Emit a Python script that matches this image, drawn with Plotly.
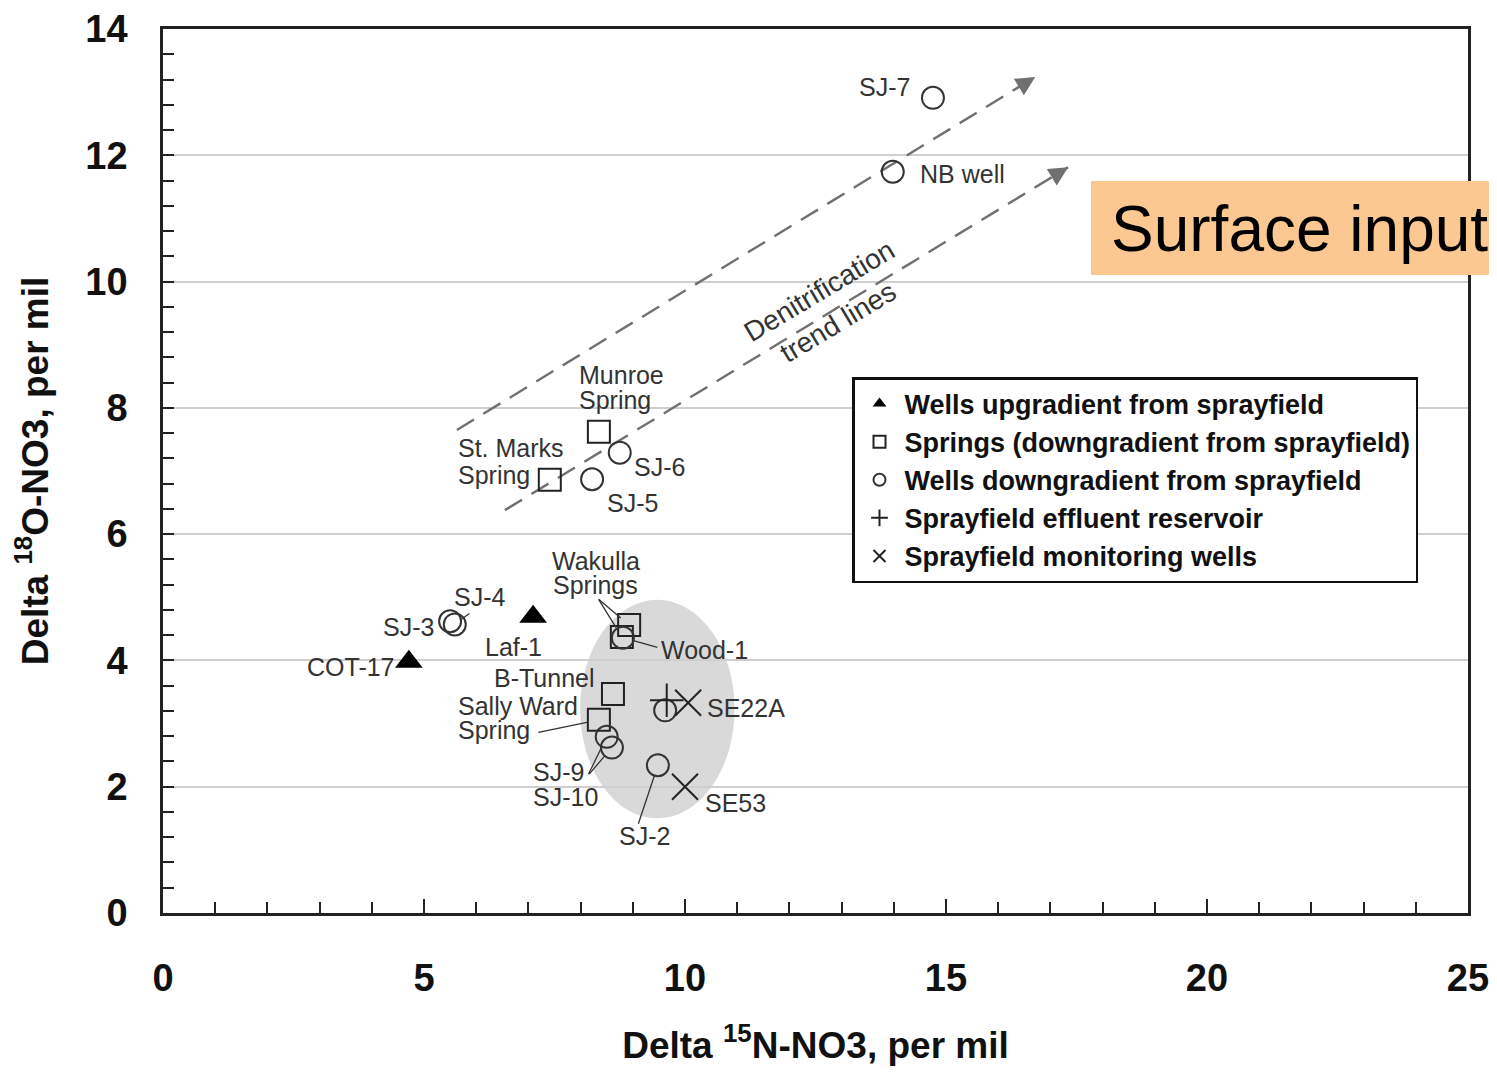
import plotly.graph_objects as go

# ---------------- data ----------------
up_names = ["COT-17", "Laf-1"]
up_x = [4.71, 7.09]
up_y = [3.98, 4.69]

spr_names = ["Munroe Spring", "St. Marks Spring", "Wakulla Springs", "Wakulla Springs 2", "B-Tunnel", "Sally Ward Spring"]
spr_x = [8.35, 7.41, 8.93, 8.79, 8.62, 8.35]
spr_y = [7.62, 6.86, 4.56, 4.37, 3.47, 3.06]

dn_names = ["SJ-7", "NB well", "SJ-6", "SJ-5", "SJ-4", "SJ-3", "Wood-1", "SE22A-c", "SJ-9", "SJ-10", "SJ-2"]
dn_x = [14.75, 13.98, 8.75, 8.22, 5.59, 5.50, 8.81, 9.62, 8.50, 8.60, 9.48]
dn_y = [12.91, 11.74, 7.29, 6.87, 4.57, 4.62, 4.36, 3.21, 2.79, 2.62, 2.34]

res_x = [9.65]
res_y = [3.37]

mon_names = ["SE22A", "SE53"]
mon_x = [10.06, 10.00]
mon_y = [3.33, 2.00]

# trend line arrows (start, end) in data units
trend1 = [(5.63, 7.65), (16.71, 13.24)]
trend2 = [(6.55, 6.38), (17.34, 11.81)]

# gray cluster ellipse
ell_x = [7.99, 10.95]
ell_y = [1.50, 4.96]

x_ticks = [0, 5, 10, 15, 20, 25]
y_ticks = [0, 2, 4, 6, 8, 10, 12, 14]

FONT = "Liberation Sans, Arial, sans-serif"
LBL = dict(family=FONT, size=25, color="#333333")

# page has an 8px body margin; layout values below compensate for it
OFF = 8
W, H = 1497 - OFF, 1073 - OFF
ML, MT = 163 - OFF, 29 - OFF
PW, PH = 1305, 884
MR, MB = W - ML - PW, H - MT - PH


def px2paper_x(px):
    return (px - OFF - ML) / PW


def px2paper_y(py):
    return 1 - (py - OFF - MT) / PH


fig = go.Figure()

# ellipse
fig.add_shape(type="circle", xref="x", yref="y", x0=ell_x[0], x1=ell_x[1], y0=ell_y[0], y1=ell_y[1],
              fillcolor="#d9d9d9", line=dict(width=0), layer="below")

# dashed trend lines
for tr in (trend1, trend2):
    fig.add_trace(go.Scatter(x=[tr[0][0], tr[1][0]], y=[tr[0][1], tr[1][1]], mode="lines",
                             line=dict(color="#707070", width=2.4, dash="20px,11px"),
                             showlegend=False, hoverinfo="skip"))
# arrowheads only (short shaft along trend direction)
for tr in (trend1, trend2):
    fig.add_annotation(x=tr[1][0], y=tr[1][1], xref="x", yref="y", ax=-0.853 * 14, ay=0.521 * 14,
                       text="", showarrow=True, arrowhead=2, arrowsize=1.6,
                       arrowwidth=2.4, arrowcolor="#707070")

fig.add_trace(go.Scatter(x=up_x, y=up_y, mode="markers", name="Wells upgradient from sprayfield",
                         marker=dict(symbol="triangle-up", size=24, color="black"), legendgroup="a"))
fig.add_trace(go.Scatter(x=spr_x, y=spr_y, mode="markers", name="Springs (downgradient from sprayfield)",
                         marker=dict(symbol="square-open", size=22, color="#222222", line=dict(width=2)), legendgroup="b"))
fig.add_trace(go.Scatter(x=dn_x, y=dn_y, mode="markers", name="Wells downgradient from sprayfield",
                         marker=dict(symbol="circle-open", size=22, color="#333333", line=dict(width=2)), legendgroup="c"))
fig.add_trace(go.Scatter(x=res_x, y=res_y, mode="markers", name="Sprayfield effluent reservoir",
                         marker=dict(symbol="cross-thin-open", size=24, color="#222222", line=dict(width=2)), legendgroup="d"))
fig.add_trace(go.Scatter(x=mon_x, y=mon_y, mode="markers", name="Sprayfield monitoring wells",
                         marker=dict(symbol="x-thin-open", size=26, color="#222222", line=dict(width=2)), legendgroup="e"))


# ---------------- labels ----------------
def lab(x, y, text, dx, dy, anchor="center"):
    fig.add_annotation(x=x, y=y, xref="x", yref="y", text=text, showarrow=False,
                       xshift=dx, yshift=-dy, font=LBL, xanchor=anchor)


def lab_lines(x, y, lines, dx, dy, spacing=25, anchor="center"):
    for i, t in enumerate(lines):
        ddx = dx[i] if isinstance(dx, (list, tuple)) else dx
        lab(x, y, t, ddx, dy + i * spacing, anchor)


def leader(x, y, ax, ay, standoff=10):
    fig.add_annotation(x=x, y=y, xref="x", yref="y", text="", showarrow=True, arrowhead=0,
                       ax=ax, ay=ay, arrowwidth=1.3, arrowcolor="#333333", standoff=standoff)


lab(dn_x[0], dn_y[0], "SJ-7", -48, -11)
lab(dn_x[1], dn_y[1], "NB well", 70, 2)
lab_lines(spr_x[0], spr_y[0], ["Munroe", "Spring"], [23, 16], -57)
lab_lines(spr_x[1], spr_y[1], ["St. Marks", "Spring"], -94, -32, spacing=27, anchor="left")
lab(dn_x[2], dn_y[2], "SJ-6", 40, 14)
lab(dn_x[3], dn_y[3], "SJ-5", 40, 24)
lab(dn_x[4], dn_y[4], "SJ-4", 25, -27)
leader(dn_x[4], dn_y[4], 16, -12, standoff=9)
lab(dn_x[5], dn_y[5], "SJ-3", -42, 6)
lab(up_x[1], up_y[1], "Laf-1", -20, 30)
lab(up_x[0], up_y[0], "COT-17", -58, 5)
lab_lines(spr_x[2], spr_y[2], ["Wakulla", "Springs"], [-33, -34], -64, spacing=24)
leader(spr_x[2], spr_y[2], -32, -27, standoff=11)
leader(spr_x[3], spr_y[3], -24, -39, standoff=11)
lab(dn_x[6], dn_y[6], "Wood-1", 82, 12)
leader(dn_x[6], dn_y[6], 36, 10, standoff=10)
lab(spr_x[4], spr_y[4], "B-Tunnel", -68, -16)
lab_lines(spr_x[5], spr_y[5], ["Sally Ward", "Spring"], -143, -14, spacing=24, anchor="left")
leader(spr_x[5], spr_y[5], -62, 13, standoff=11)
lab(mon_x[0], mon_y[0], "SE22A", 58, 5)
lab_lines(dn_x[8], dn_y[8], ["SJ-9", "SJ-10"], -76, 35, spacing=25, anchor="left")
leader(dn_x[8], dn_y[8], -19, 39, standoff=10)
leader(dn_x[9], dn_y[9], -24, 28, standoff=10)
lab(mon_x[1], mon_y[1], "SE53", 50, 16)
lab(dn_x[10], dn_y[10], "SJ-2", -13, 71)
leader(dn_x[10], dn_y[10], -20, 60, standoff=11)

# rotated trend text
fig.add_annotation(x=12.75, y=9.6, xref="x", yref="y", text="Denitrification<br>trend lines",
                   showarrow=False, textangle=-31, font=dict(family=FONT, size=28, color="#333333"))

# Surface inputs box
fig.add_shape(type="rect", xref="paper", yref="paper", x0=px2paper_x(1091), x1=px2paper_x(1520),
              y0=px2paper_y(275), y1=px2paper_y(181), fillcolor="#FCC892", line=dict(width=0), layer="above")
fig.add_annotation(xref="paper", yref="paper", x=px2paper_x(1109), y=px2paper_y(229),
                   xanchor="left", yanchor="middle", text="Surface inputs", showarrow=False,
                   font=dict(family=FONT, size=64, color="black"))

axis_common = dict(showline=True, linecolor="#222222", linewidth=2.5, mirror=True, automargin=False,
                   ticks="inside", tickcolor="#222222", tickwidth=2, zeroline=False,
                   tickfont=dict(family=FONT, size=38, color="#111111", weight="bold"))

TITLE_FONT = dict(family=FONT, size=37, color="#111111", weight="bold")

fig.update_xaxes(range=[0, 25], tickvals=x_ticks, ticklen=14, showgrid=False,
                 ticklabelstandoff=30,
                 minor=dict(dtick=1, tick0=0, ticks="inside", ticklen=11, tickcolor="#222222", tickwidth=2, showgrid=False),
                 title=dict(text="Delta <sup>15</sup>N-NO3, per mil", font=TITLE_FONT, standoff=34),
                 **axis_common)
fig.update_yaxes(range=[0, 14], tickvals=y_ticks, ticklen=11, showgrid=True, gridcolor="#cfcfcf", gridwidth=1.5,
                 ticklabelstandoff=25,
                 minor=dict(dtick=0.4, tick0=0, ticks="inside", ticklen=11, tickcolor="#222222", tickwidth=2, showgrid=False),
                 title=dict(text="Delta <sup>18</sup>O-NO3, per mil", font=TITLE_FONT, standoff=26),
                 **axis_common)

fig.update_layout(
    width=W, height=H,
    margin=dict(l=ML, r=MR, t=MT, b=MB, autoexpand=False),
    paper_bgcolor="white", plot_bgcolor="white",
    showlegend=True,
    legend=dict(x=px2paper_x(852), y=px2paper_y(377), xanchor="left", yanchor="top",
                bgcolor="white", bordercolor="#111111", borderwidth=2.5,
                font=dict(family=FONT, size=27, color="#111111", weight="bold"),
                tracegroupgap=0, itemsizing="constant", traceorder="grouped", itemwidth=40),
)

fig.write_html("out.html")
